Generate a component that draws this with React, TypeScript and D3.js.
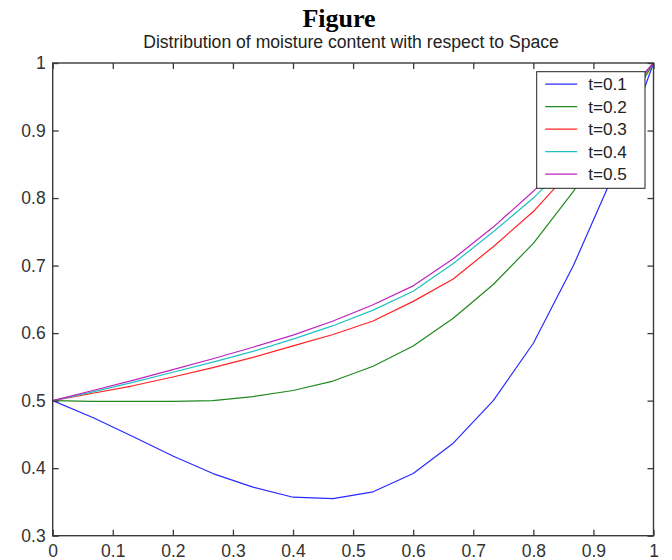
import React, { useEffect, useRef } from 'react';
import * as d3 from 'd3';

// space grid (16 nodes)
const xs = [0, 0.0667, 0.1333, 0.2, 0.2667, 0.3333, 0.4, 0.4667, 0.5333, 0.6, 0.6667, 0.7333, 0.8, 0.8667, 0.9333, 1];

const t01 = [0.5, 0.475, 0.447, 0.418, 0.392, 0.372, 0.357, 0.355, 0.365, 0.392, 0.437, 0.5, 0.585, 0.7, 0.835, 1.0];
const t02 = [0.5, 0.499, 0.499, 0.499, 0.5, 0.506, 0.515, 0.529, 0.551, 0.581, 0.622, 0.672, 0.733, 0.81, 0.9, 1.0];
const t03 = [0.5, 0.511, 0.522, 0.535, 0.549, 0.564, 0.581, 0.598, 0.618, 0.647, 0.68, 0.728, 0.78, 0.845, 0.92, 1.0];
const t04 = [0.5, 0.513, 0.527, 0.542, 0.557, 0.573, 0.591, 0.611, 0.634, 0.662, 0.703, 0.75, 0.8, 0.86, 0.93, 1.0];
const t05 = [0.5, 0.515, 0.53, 0.546, 0.562, 0.579, 0.597, 0.618, 0.642, 0.67, 0.71, 0.757, 0.81, 0.87, 0.935, 1.0];

const seriesNames = ['t=0.1', 't=0.2', 't=0.3', 't=0.4', 't=0.5'];
const seriesValues = [t01, t02, t03, t04, t05];
const seriesColors = ['#2a2aff', '#1f8a1f', '#ff2222', '#22c0c0', '#c022c0'];

const xTicks = [0, 0.1, 0.2, 0.3, 0.4, 0.5, 0.6, 0.7, 0.8, 0.9, 1];
const yTicks = [0.3, 0.4, 0.5, 0.6, 0.7, 0.8, 0.9, 1];

const App = () => {
    const ref = useRef<SVGSVGElement>(null);

    useEffect(() => {
        const svg = d3.select(ref.current);
        svg.selectAll('*').remove();

        const margin = {top: 63, right: 18.5, bottom: 24.3, left: 52.7};
        const width = 672 - margin.left - margin.right;
        const height = 560 - margin.top - margin.bottom;
        const font = '"Liberation Sans", Arial, sans-serif';
        const axisColor = '#3a3a3a';

        const x = d3.scaleLinear().domain([0, 1]).range([0, width]);
        const y = d3.scaleLinear().domain([0.3, 1]).range([height, 0]);

        svg.append('text')
            .attr('x', 339)
            .attr('y', 27)
            .attr('text-anchor', 'middle')
            .attr('font-family', '"Liberation Serif", "Times New Roman", serif')
            .attr('font-weight', 'bold')
            .attr('font-size', 26)
            .attr('fill', '#000')
            .text('Figure');

        svg.append('text')
            .attr('x', 351)
            .attr('y', 48)
            .attr('text-anchor', 'middle')
            .attr('font-family', font)
            .attr('font-size', 17.6)
            .attr('fill', '#222')
            .text('Distribution of moisture content with respect to Space');

        const g = svg.append('g').attr('transform', `translate(${margin.left},${margin.top})`);

        const line = d3.line<number>()
            .x((d, i) => x(xs[i]))
            .y((d) => y(d));

        seriesValues.forEach((vals, k) => {
            g.append('path')
                .datum(vals)
                .attr('fill', 'none')
                .attr('stroke', seriesColors[k])
                .attr('stroke-width', 1.2)
                .attr('stroke-linejoin', 'round')
                .attr('d', line);
        });

        // ticks inward on all four sides
        const tickLen = 6;
        const axisStyle = (sel: any) => {
            sel.select('.domain').remove();
            sel.selectAll('line').attr('stroke', axisColor).attr('stroke-width', 1.3);
            sel.selectAll('text')
                .attr('font-family', font)
                .attr('font-size', 17.5)
                .attr('fill', '#333');
        };

        g.append('g')
            .attr('transform', `translate(0,${height})`)
            .call(d3.axisBottom(x).tickValues(xTicks).tickSize(-tickLen).tickPadding(9)
                .tickFormat((d) => d3.format('~g')(d as number)))
            .call(axisStyle);

        g.append('g')
            .call(d3.axisLeft(y).tickValues(yTicks).tickSize(-tickLen).tickPadding(7)
                .tickFormat((d) => d3.format('~g')(d as number)))
            .call(axisStyle);

        g.append('g')
            .call(d3.axisTop(x).tickValues(xTicks).tickSize(-tickLen).tickFormat(() => ''))
            .call(axisStyle);

        g.append('g')
            .attr('transform', `translate(${width},0)`)
            .call(d3.axisRight(y).tickValues(yTicks).tickSize(-tickLen).tickFormat(() => ''))
            .call(axisStyle);

        g.append('rect')
            .attr('width', width)
            .attr('height', height)
            .attr('fill', 'none')
            .attr('stroke', axisColor)
            .attr('stroke-width', 1.4);

        // legend
        const lg = svg.append('g').attr('transform', 'translate(536.7,71.7)');
        lg.append('rect')
            .attr('width', 108.3)
            .attr('height', 116.6)
            .attr('fill', '#fff')
            .attr('stroke', '#222')
            .attr('stroke-width', 1);

        seriesNames.forEach((name, k) => {
            const cy = 12.5 + k * 22.5;
            lg.append('line')
                .attr('x1', 8.5)
                .attr('x2', 40.5)
                .attr('y1', cy)
                .attr('y2', cy)
                .attr('stroke', seriesColors[k])
                .attr('stroke-width', 1.2);
            lg.append('text')
                .attr('x', 51.5)
                .attr('y', cy + 6)
                .attr('font-family', font)
                .attr('font-size', 17.2)
                .attr('fill', '#222')
                .text(name);
        });
    }, []);

    return (
        <svg ref={ref} width={672} height={560}
            style={{position: 'absolute', left: 0, top: 0, background: '#fff'}} />
    );
};

export default App;
